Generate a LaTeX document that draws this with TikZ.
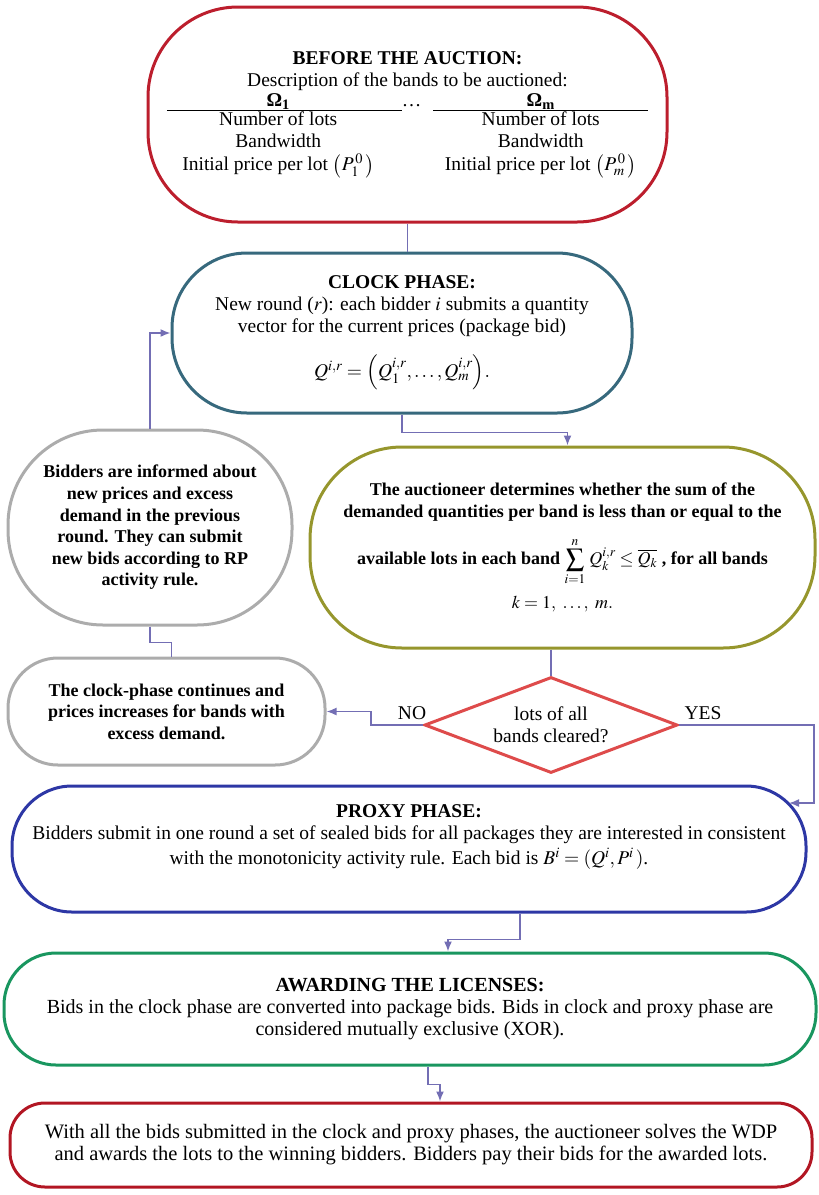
\documentclass[tikz,border=0pt]{standalone}
\usepackage{mathptmx}
\usepackage[no-math]{fontspec}
\setmainfont{Liberation Serif}
\usetikzlibrary{shapes.geometric,arrows.meta}
\definecolor{redb}{RGB}{188,30,45}
\definecolor{tealb}{RGB}{55,105,125}
\definecolor{oliveb}{RGB}{150,150,45}
\definecolor{greyb}{RGB}{172,172,172}
\definecolor{diamb}{RGB}{222,75,75}
\definecolor{blueb}{RGB}{45,55,165}
\definecolor{greenb}{RGB}{25,150,95}
\definecolor{darkredb}{RGB}{178,22,35}
\definecolor{linkc}{RGB}{115,110,180}

\begin{document}
\begin{tikzpicture}[x=1pt, y=-1pt, font=\fontsize{19.5}{22}\selectfont,
  box/.style={draw, line width=3pt, align=center, inner sep=0pt},
  boldtxt/.style={font=\fontsize{18}{21.6}\selectfont\bfseries},
  link/.style={draw=linkc, line width=1.6pt},
  arr/.style={link, -{Latex[length=10pt,width=8pt]}},
  lab/.style={inner sep=0pt}]
\useasboundingbox (0,0) rectangle (819,1195);
% main column
\node[box, draw=redb, rounded corners=90pt, minimum width=519pt, minimum height=215pt] (before) at (407.5,114.5)
  {\textbf{BEFORE THE AUCTION:}\\
   Description of the bands to be auctioned:\\
   \begin{tabular}{@{}c@{\hspace{12pt}}c@{\hspace{12pt}}c@{}}
   \makebox[223pt]{\textbf{Ω\textsubscript{1}}} & \dots & \makebox[215pt]{\textbf{Ω\textsubscript{m}}}\\[-3pt]
   \cline{1-1}\cline{3-3}
   Number of lots && Number of lots\\
   Bandwidth && Bandwidth\\
   Initial price per lot $\bigl(P_{1}^{\,0}\,\bigr)$ && Initial price per lot $\bigl(P_{m}^{\,0}\,\bigr)$
   \end{tabular}};
\node[box, draw=tealb, rounded corners=75pt, minimum width=460pt, minimum height=160pt] (clock) at (402,333)
  {\textbf{CLOCK PHASE:}\\
   New round ($r$): each bidder $i$ submits a quantity\\
   vector for the current prices (package bid)\\[17pt]
   $Q^{i,r} = \Bigl(Q_1^{i,r},\dots,Q_m^{i,r}\Bigr).$};
\node[box, draw=oliveb, rounded corners=92pt, minimum width=505pt, minimum height=201pt, boldtxt] (auct) at (562.5,547.5)
  {The auctioneer determines whether the sum of the\\
   demanded quantities per band is less than or equal to the\\[16pt]
   available lots in each band $\displaystyle\sum_{i=1}^{n}\, Q_k^{i,r} \le \overline{Q_k}$ , for all bands\\[10pt]
   $k=1,\ \dots,\ m.$};
\node[diamond, draw=diamb, line width=3pt, aspect=2.6, minimum width=253pt, minimum height=96pt, inner sep=0pt, align=center] (dec) at (551,725)
  {lots of all\\bands cleared?};
\node[box, draw=blueb, rounded corners=60pt, minimum width=794pt, minimum height=126pt] (proxy) at (409,849)
  {\textbf{PROXY PHASE:}\\
   Bidders submit in one round a set of sealed bids for all packages they are interested in consistent\\[3pt]
   with the monotonicity activity rule. Each bid is $B^i = (Q^i,P^i\,)$.\\[6pt]};
\node[box, draw=greenb, rounded corners=52pt, minimum width=812pt, minimum height=112pt, font=\fontsize{20}{22}\selectfont] (award) at (410,1009)
  {\textbf{AWARDING THE LICENSES:}\\
   Bids in the clock phase are converted into package bids. Bids in clock and proxy phase are\\
   considered mutually exclusive (XOR).};
\node[box, draw=darkredb, rounded corners=35pt, minimum width=802pt, minimum height=84pt, font=\fontsize{20.5}{22}\selectfont] (final) at (411,1145)
  {With all the bids submitted in the clock and proxy phases, the auctioneer solves the WDP\\
   and awards the lots to the winning bidders. Bidders pay their bids for the awarded lots.};
% loop on the left
\node[box, draw=greyb, rounded corners=95pt, minimum width=284pt, minimum height=195pt, boldtxt] (inform) at (150,527.5)
  {Bidders are informed about\\ new prices and excess\\ demand in the previous\\ round. They can submit\\ new bids according to RP\\ activity rule.};
\node[box, draw=greyb, rounded corners=50pt, minimum width=317pt, minimum height=107pt, boldtxt] (cont) at (166.5,711.5)
  {The clock-phase continues and\\ prices increases for bands with\\ excess demand.};
\node[lab] (no) at (412,713) {NO};
\node[lab] (yes) at (703,713) {YES};
\coordinate (yesend) at (789,803);
% connectors
\draw[link] (before.south) -- (before.south |- clock.north);
\draw[arr] (clock.south) -- ++(0,18) -| ([xshift=5pt]auct.north);
\draw[link] (dec.north |- auct.south) -- (dec.north);
\draw[arr] (dec.west) -- ++(-52,0) |- (cont.east);
\draw[arr] (dec.east) -| ++(135,78) -- (yesend);
\draw[arr] (inform.north) |- (clock.west);
\draw[link] (inform.south) -- ++(0,16) -| ([xshift=5pt]cont.north);
\draw[arr] ([xshift=111pt]proxy.south) -- ++(0,26) -| ([xshift=38pt]award.north);
\draw[arr] ([xshift=18pt]award.south) -- ++(0,18) -| ([xshift=29pt]final.north);
\end{tikzpicture}
\end{document}
